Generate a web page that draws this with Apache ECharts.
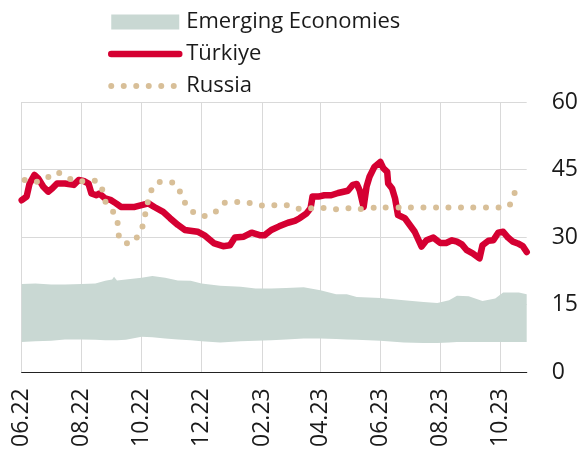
<!DOCTYPE html>
<html>
<head>
<meta charset="utf-8">
<script src="https://cdn.jsdelivr.net/npm/echarts@6/dist/echarts.min.js"></script>
<style>
  html, body { margin: 0; padding: 0; background: #fff; }
  #chart { width: 586px; height: 453px; }
</style>
</head>
<body>
<div id="chart"></div>
<script>
// x ticks, every two months
const xTicks = ['2022-06-01', '2022-08-01', '2022-10-01', '2022-12-01', '2023-02-01',
  '2023-04-01', '2023-06-01', '2023-08-01', '2023-10-01']
const xStart = '2022-06-01'
const xEnd = '2023-10-28'

// Türkiye
const turkiyeDates = [
  '2022-06-01', '2022-06-06', '2022-06-09', '2022-06-14', '2022-06-18', '2022-06-23', '2022-06-28',
  '2022-07-02', '2022-07-07', '2022-07-15', '2022-07-24', '2022-07-29', '2022-08-03', '2022-08-08',
  '2022-08-11', '2022-08-16', '2022-08-19', '2022-08-25', '2022-08-31', '2022-09-05', '2022-09-10',
  '2022-09-17', '2022-09-24', '2022-10-01', '2022-10-08', '2022-10-14', '2022-10-23', '2022-10-30',
  '2022-11-07', '2022-11-14', '2022-11-27', '2022-12-04', '2022-12-14', '2022-12-23', '2022-12-30',
  '2023-01-04', '2023-01-13', '2023-01-21', '2023-01-30', '2023-02-03', '2023-02-10', '2023-02-18',
  '2023-02-27', '2023-03-06', '2023-03-11', '2023-03-18', '2023-03-22', '2023-03-24', '2023-03-30',
  '2023-04-05', '2023-04-12', '2023-04-19', '2023-04-29', '2023-05-04', '2023-05-08', '2023-05-11',
  '2023-05-15', '2023-05-18', '2023-05-21', '2023-05-26', '2023-06-01', '2023-06-04', '2023-06-08',
  '2023-06-09', '2023-06-13', '2023-06-16', '2023-06-19', '2023-06-26', '2023-07-01', '2023-07-06',
  '2023-07-13', '2023-07-18', '2023-07-25', '2023-08-01', '2023-08-07', '2023-08-13', '2023-08-18',
  '2023-08-23', '2023-08-28', '2023-09-03', '2023-09-10', '2023-09-13', '2023-09-19', '2023-09-24',
  '2023-09-29', '2023-10-04', '2023-10-09', '2023-10-14', '2023-10-19', '2023-10-24', '2023-10-28'
]
const turkiyeValues = [
  38.2, 39.0, 41.9, 43.8, 43.0, 41.2, 40.1,
  40.8, 41.9, 41.9, 41.6, 42.7, 42.5, 41.9,
  39.7, 39.3, 39.7, 38.6, 38.2, 37.5, 36.7,
  36.7, 36.7, 37.1, 37.5, 36.7, 35.6, 34.2,
  32.7, 31.6, 31.2, 30.4, 28.6, 28.0, 28.2,
  29.9, 30.1, 31.0, 30.4, 30.4, 31.6, 32.4,
  33.2, 33.6, 34.2, 35.3, 36.4, 39.0, 39.0,
  39.3, 39.3, 39.8, 40.3, 41.6, 41.8, 40.4,
  36.7, 41.2, 43.4, 45.6, 46.7, 45.3, 44.5,
  41.9, 40.8, 38.6, 34.9, 34.2, 32.7, 31.2,
  27.9, 29.3, 29.9, 28.7, 28.7, 29.3, 29.0,
  28.4, 27.1, 26.4, 25.3, 28.2, 29.2, 29.3,
  31.0, 31.2, 29.9, 29.0, 28.6, 28.0, 26.7
]

// Russia
const russiaDates = [
  '2022-06-04', '2022-06-16', '2022-06-27', '2022-07-05', '2022-07-16', '2022-07-25', '2022-08-05',
  '2022-08-15', '2022-08-21', '2022-08-24', '2022-08-30', '2022-09-06', '2022-09-07', '2022-09-10',
  '2022-09-20', '2022-09-27', '2022-10-02', '2022-10-07', '2022-10-10', '2022-10-15', '2022-10-27',
  '2022-11-06', '2022-11-10', '2022-11-14', '2022-11-20', '2022-12-02', '2022-12-13', '2022-12-20',
  '2022-12-28', '2023-01-10', '2023-01-22', '2023-02-02', '2023-02-14', '2023-02-26', '2023-03-10',
  '2023-03-22', '2023-04-03', '2023-04-16', '2023-04-28', '2023-05-09', '2023-06-01', '2023-07-01',
  '2023-08-01', '2023-09-01', '2023-10-01', '2023-10-09', '2023-10-12', '2023-10-15', '2023-10-16',
  '2023-10-17'
]
const russiaValues = [
  42.7, 42.3, 43.2, 44.4, 43.6, 42.4, 42.4,
  42.5, 41.2, 38.4, 36.5, 34.3, 31.6, 29.1,
  28.6, 30.2, 32.4, 37.5, 39.8, 41.9, 42.3,
  41.6, 39.5, 37.7, 36.0, 34.7, 35.1, 37.0,
  37.8, 37.8, 37.5, 37.0, 37.1, 37.1, 36.3,
  36.4, 36.5, 36.2, 36.4, 36.2, 36.6, 36.6,
  36.6, 36.6, 36.6, 36.8, 37.6, 38.8, 40.5,
  41.8
]

// Emerging Economies range (lower and upper edge)
const bandDates = [
  '2022-06-01', '2022-06-15', '2022-07-01', '2022-07-15', '2022-08-01', '2022-08-15', '2022-08-25',
  '2022-09-01', '2022-09-03', '2022-09-06', '2022-09-15', '2022-10-01', '2022-10-12', '2022-10-25',
  '2022-11-07', '2022-11-20', '2022-12-01', '2022-12-20', '2023-01-10', '2023-01-25', '2023-02-10',
  '2023-02-25', '2023-03-15', '2023-04-01', '2023-04-17', '2023-04-28', '2023-05-08', '2023-06-01',
  '2023-06-25', '2023-07-15', '2023-07-29', '2023-08-10', '2023-08-18', '2023-08-30', '2023-09-13',
  '2023-09-26', '2023-10-04', '2023-10-20', '2023-10-28'
]
const bandLower = [
  6.7, 6.9, 7.0, 7.3, 7.3, 7.2, 7.1,
  7.1, 7.1, 7.1, 7.2, 7.9, 7.8, 7.5,
  7.3, 7.1, 6.9, 6.6, 6.9, 7.0, 7.1,
  7.3, 7.5, 7.5, 7.4, 7.3, 7.2, 7.0,
  6.6, 6.5, 6.5, 6.6, 6.7, 6.7, 6.7,
  6.7, 6.7, 6.7, 6.7
]
const bandUpper = [
  19.6, 19.7, 19.5, 19.5, 19.6, 19.7, 20.3,
  20.6, 21.2, 20.4, 20.6, 21.0, 21.4, 21.0,
  20.4, 20.3, 19.7, 19.2, 19.0, 18.6, 18.6,
  18.7, 18.9, 18.2, 17.3, 17.3, 16.7, 16.5,
  16.0, 15.6, 15.4, 16.0, 17.0, 16.9, 15.8,
  16.4, 17.7, 17.7, 17.3
]

const font = 'Open Sans'
const textColor = '#1a1a1a'
const gridColor = '#d9d9d9'
const red = '#d50032'
const tan = '#d8bf98'
const bandColor = '#c9d8d3'

// 'YYYY-MM-DD' -> ms (local time)
const ts = (s) => {
  const [y, m, d] = s.split('-').map(Number)
  return new Date(y, m - 1, d).getTime()
}
const pairs = (dates, values) => dates.map((d, i) => [ts(d), values[i]])

const chart = echarts.init(document.getElementById('chart'), null, { renderer: 'canvas' })
chart.setOption({
  animation: false,
  textStyle: { fontFamily: font },
  legend: {
    orient: 'vertical',
    left: 108,
    top: 11,
    padding: 0,
    itemWidth: 68,
    itemHeight: 15,
    itemGap: 10,
    textStyle: { fontSize: 22, lineHeight: 22, color: textColor, fontFamily: font, padding: [0, 0, 0, 2] },
    data: [
      { name: 'Emerging Economies', icon: 'rect', itemStyle: { color: bandColor } },
      { name: 'Türkiye', itemStyle: { opacity: 0 }, lineStyle: { width: 6.5, cap: 'round', color: red } },
      { name: 'Russia', itemStyle: { opacity: 0 }, lineStyle: { width: 6, type: [0, 12.5], cap: 'round', color: tan } }
    ]
  },
  grid: {
    left: 21.7,
    right: 59.3,
    top: 102,
    bottom: 80.7,
    containLabel: false,
    outerBoundsMode: 'none'
  },
  xAxis: [
    {
      // axis the series sit on
      type: 'time',
      min: ts(xStart),
      max: ts(xEnd),
      position: 'bottom',
      axisLine: { show: false },
      axisTick: { show: false },
      axisLabel: { show: false },
      splitLine: { show: false }
    },
    {
      // same span, draws the month ticks, labels and grid lines
      type: 'value',
      min: ts(xStart),
      max: ts(xEnd),
      position: 'bottom',
      offset: 0,
      axisLine: { show: true, lineStyle: { color: '#222', width: 1.2 } },
      axisTick: { show: false, customValues: xTicks.map(ts) },
      splitLine: { show: true, lineStyle: { color: gridColor, width: 1 } },
      axisLabel: {
        customValues: xTicks.map(ts),
        rotate: 90,
        margin: 16,
        fontSize: 23,
        color: textColor,
        fontFamily: font,
        formatter: (val) => {
          const d = new Date(val)
          const m = String(d.getMonth() + 1).padStart(2, '0')
          const y = String(d.getFullYear()).slice(2)
          return m + '.' + y
        }
      }
    }
  ],
  yAxis: {
    type: 'value',
    position: 'right',
    min: 0,
    max: 60,
    interval: 15,
    axisLine: { show: false },
    axisTick: { show: false },
    splitLine: { lineStyle: { color: gridColor, width: 1 } },
    axisLabel: { margin: 25, fontSize: 23, color: textColor, fontFamily: font }
  },
  series: [
    {
      name: 'lower',
      type: 'line',
      stack: 'band',
      symbol: 'none',
      silent: true,
      lineStyle: { width: 0, opacity: 0 },
      data: pairs(bandDates, bandLower)
    },
    {
      name: 'Emerging Economies',
      type: 'line',
      stack: 'band',
      symbol: 'none',
      silent: true,
      itemStyle: { color: bandColor },
      lineStyle: { width: 0, opacity: 0 },
      areaStyle: { color: bandColor, opacity: 1 },
      data: pairs(bandDates, bandUpper.map((u, i) => u - bandLower[i]))
    },
    {
      name: 'Türkiye',
      type: 'line',
      symbol: 'none',
      itemStyle: { color: red },
      lineStyle: { color: red, width: 6.5, join: 'round', cap: 'round' },
      data: pairs(turkiyeDates, turkiyeValues)
    },
    {
      name: 'Russia',
      type: 'line',
      symbol: 'none',
      smooth: 0.3,
      itemStyle: { color: tan },
      lineStyle: { color: tan, width: 6, type: [0, 12.5], cap: 'round' },
      data: pairs(russiaDates, russiaValues)
    }
  ]
})
</script>
</body>
</html>
